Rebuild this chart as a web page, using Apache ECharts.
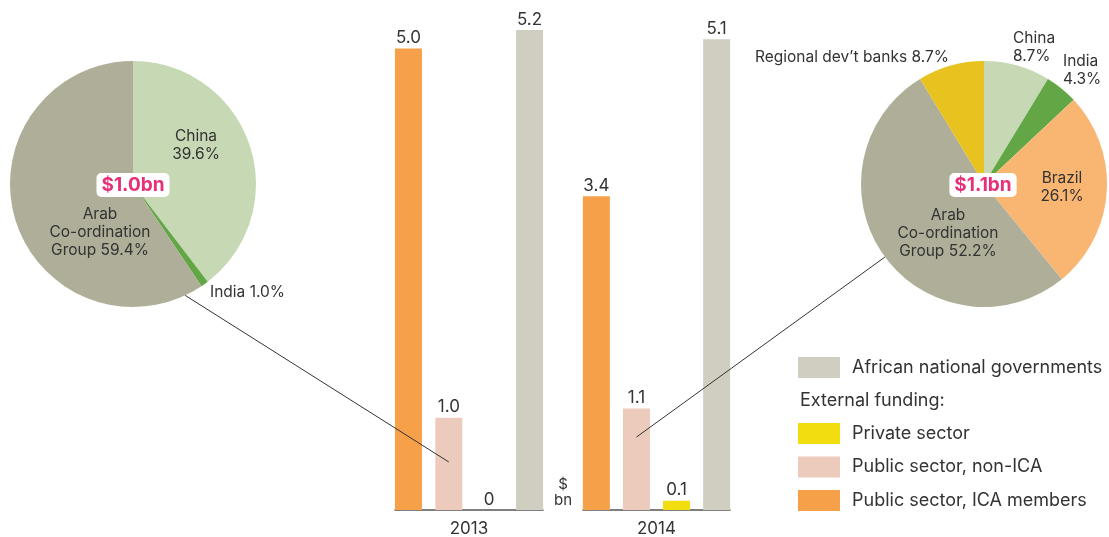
<!DOCTYPE html>
<html><head><meta charset="utf-8">
<script src="https://cdn.jsdelivr.net/npm/echarts@6/dist/echarts.min.js"></script>
<style>html,body{margin:0;padding:0;background:#fff}#c{width:1109px;height:537px}</style>
</head><body><div id="c"></div>
<script>
// ---- data ----
const years = ['2013', '2014'];
const fundingTypes = ['Public sector, ICA members', 'Public sector, non-ICA', 'Private sector', 'African national governments'];
const values2013 = [5.0, 1.0, 0, 5.2];
const values2014 = [3.4, 1.1, 0.1, 5.1];
const pie2013Names = ['China', 'India', 'Arab Co-ordination Group'];
const pie2013Values = [39.6, 1.0, 59.4];
const pie2014Names = ['China', 'India', 'Brazil', 'Arab Co-ordination Group', 'Regional dev\u2019t banks'];
const pie2014Values = [8.7, 4.3, 26.1, 52.2, 8.7];
const pieTotals = ['$1.0bn', '$1.1bn'];
const legendHeader = 'External funding:';
const unitLabel = '$\nbn';

// ---- styles ----
const FONT = 'Inter, Roboto, sans-serif';
const TXT = '#333';
const typeColors = {
  'Public sector, ICA members': '#F7A04A',
  'Public sector, non-ICA': '#ECCBBD',
  'Private sector': '#F1DD10',
  'African national governments': '#D0CEC0'
};
const sliceColors = {
  'China': '#C6D8B4', 'India': '#63A645', 'Brazil': '#F9B672',
  'Arab Co-ordination Group': '#AFAE98', 'Regional dev\u2019t banks': '#E8C21E'
};
const displayName = { 'Arab Co-ordination Group': 'Arab\nCo-ordination\nGroup' };
// label layout per pie slice: [x, y, align, separator]
const pieLabelPos = [
  [[196, 145, 'center', '\n'], [210, 292, 'left', ' '], [100, 232, 'center', ' ']],
  [[1013, 47, 'left', '\n'], [1063, 70, 'left', '\n'], [1062, 187, 'center', '\n'], [948, 233, 'center', ' '], [949, 57, 'right', ' ']]
];
const pieCenters = [[133, 184], [984, 184]];
const R = 123;

const grids = [
  { left: 395, width: 148, top: 30, bottom: 27, containLabel: false, outerBoundsMode: 'none' },
  { left: 583, width: 147, top: 30, bottom: 27, containLabel: false, outerBoundsMode: 'none' }
];
const yearValues = [values2013, values2014];

const series = [];
yearValues.forEach((vals, g) => {
  fundingTypes.forEach((t, i) => {
    series.push({
      type: 'bar', name: t, xAxisIndex: g, yAxisIndex: g,
      barWidth: 27, barGap: '-100%',
      itemStyle: { color: typeColors[t] },
      label: {
        show: true, position: 'top', distance: 2, color: TXT, fontFamily: FONT, fontSize: 17,
        formatter: p => p.value[1] === 0 ? '0' : p.value[1].toFixed(1)
      },
      data: [[i, vals[i]]]
    });
  });
});

function pieSeries(k, names, values) {
  return {
    type: 'pie', center: pieCenters[k], radius: R, startAngle: 90, clockwise: true,
    avoidLabelOverlap: false,
    labelLine: { show: false },
    label: {
      show: true, position: 'inside', color: TXT, fontFamily: FONT, fontSize: 15.5, lineHeight: 18,
      formatter: p => (displayName[p.name] || p.name) + pieLabelPos[k][p.dataIndex][3] + p.value.toFixed(1) + '%'
    },
    labelLayout: p => {
      const L = pieLabelPos[k][p.dataIndex];
      return { x: L[0], y: L[1], align: L[2], verticalAlign: 'middle' };
    },
    emphasis: { scale: false },
    data: names.map((n, i) => ({ name: n, value: values[i], itemStyle: { color: sliceColors[n] } }))
  };
}
series.push(pieSeries(0, pie2013Names, pie2013Values));
series.push(pieSeries(1, pie2014Names, pie2014Values));

const chart = echarts.init(document.getElementById('c'), null, { renderer: 'canvas' });
const legendCommon = {
  left: 798, padding: 0, itemWidth: 42, itemHeight: 21, icon: 'rect', orient: 'vertical', itemGap: 12.5,
  textStyle: { fontFamily: FONT, fontSize: 18, color: TXT, padding: [0, 0, 0, 7] }
};
chart.setOption({
  animation: false,
  grid: grids,
  xAxis: grids.map((g, i) => ({
    type: 'value', gridIndex: i, min: -1 / 3, max: 10 / 3,
    name: years[i], nameLocation: 'middle', nameGap: 10,
    nameTextStyle: { fontFamily: FONT, fontSize: 17, color: TXT, verticalAlign: 'top' },
    axisLine: { show: true, lineStyle: { color: '#555', width: 1.5 } },
    axisTick: { show: false }, axisLabel: { show: false }, splitLine: { show: false }
  })),
  yAxis: grids.map((g, i) => ({
    type: 'value', gridIndex: i, min: 0, max: 5.2, show: false, splitLine: { show: false }
  })),
  legend: [
    Object.assign({}, legendCommon, { top: 357, data: ['African national governments'] }),
    Object.assign({}, legendCommon, { top: 423, data: ['Private sector', 'Public sector, non-ICA', 'Public sector, ICA members'] })
  ],
  series: series
});

// decorations: totals, header, unit, connector lines
function edge(k, degFromDown) {
  const a = degFromDown * Math.PI / 180;
  return [pieCenters[k][0] + R * Math.sin(a), pieCenters[k][1] + R * Math.cos(a)];
}
const b1 = chart.convertToPixel({ gridIndex: 0 }, [1, 0.52]);
const b2 = chart.convertToPixel({ gridIndex: 1 }, [1, 0.79]);
const e1 = edge(0, 25.1);
const e2 = edge(1, -53.6);
const totalStyle = (txt) => ({
  text: txt, fill: '#E6317A', font: 'bold 19px ' + FONT,
  backgroundColor: '#fff', borderRadius: 5, padding: [3, 5, 2, 5],
  align: 'center', verticalAlign: 'middle'
});
chart.setOption({
  graphic: [
    { type: 'line', shape: { x1: e1[0], y1: e1[1], x2: b1[0], y2: b1[1] }, style: { stroke: '#333', lineWidth: 1 }, z: 100 },
    { type: 'line', shape: { x1: e2[0], y1: e2[1], x2: b2[0], y2: b2[1] }, style: { stroke: '#333', lineWidth: 1 }, z: 100 },
    { type: 'text', x: pieCenters[0][0], y: 185, style: totalStyle(pieTotals[0]), z: 100 },
    { type: 'text', x: pieCenters[1][0] - 1, y: 185, style: totalStyle(pieTotals[1]), z: 100 },
    { type: 'text', x: 800, y: 401, style: { text: legendHeader, fill: TXT, font: '18px ' + FONT, verticalAlign: 'middle' } },
    { type: 'text', x: 563, y: 492, style: { text: unitLabel, fill: TXT, font: '15px ' + FONT, align: 'center', verticalAlign: 'middle', lineHeight: 16 } }
  ]
});
</script></body></html>
